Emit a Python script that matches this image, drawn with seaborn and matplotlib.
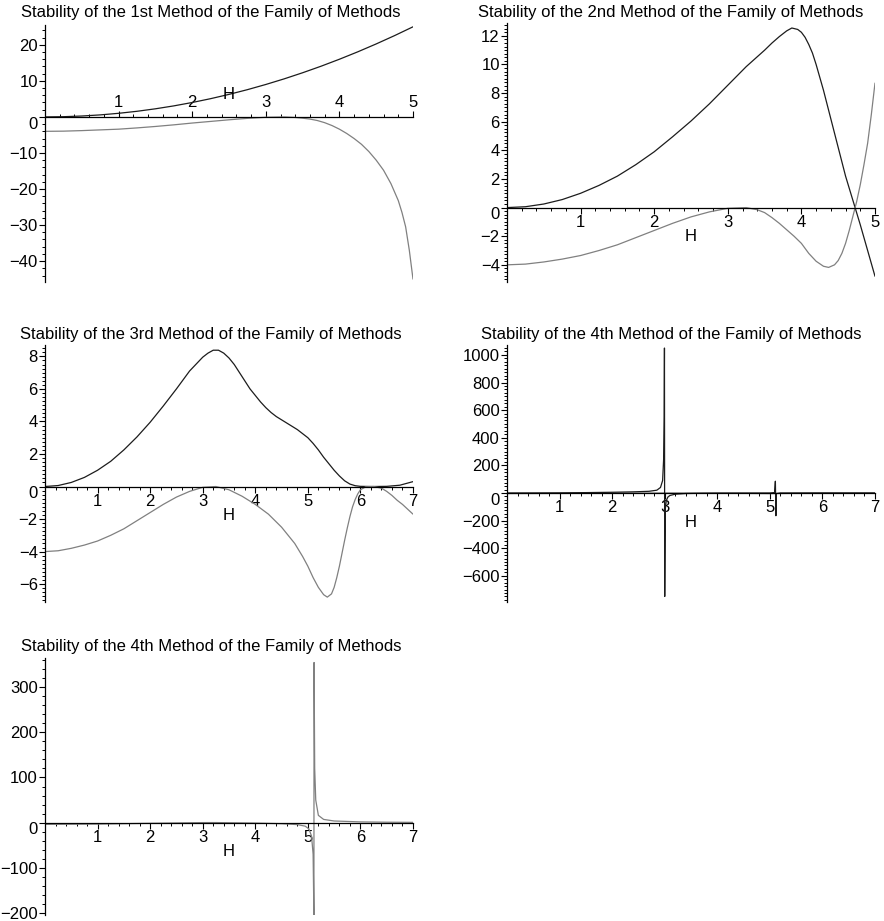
import matplotlib
matplotlib.use("Agg")
import matplotlib.pyplot as plt
import matplotlib.ticker as mticker
import seaborn as sns

# panel titles (the last two panels carry the same title in the source)
titles = [
    "Stability of the 1st Method of the Family of Methods",
    "Stability of the 2nd Method of the Family of Methods",
    "Stability of the 3rd Method of the Family of Methods",
    "Stability of the 4th Method of the Family of Methods",
    "Stability of the 4th Method of the Family of Methods",
]

# ---- values ----
# 1st method
m1_h_black = [0, 0.25, 0.5, 0.75, 1, 1.25, 1.5, 1.75, 2, 2.25, 2.5, 2.75, 3, 3.25, 3.5, 3.75, 4, 4.25, 4.5, 4.75, 5]
m1_black = [0, 0.06, 0.25, 0.56, 1, 1.56, 2.25, 3.06, 4, 5.06, 6.25, 7.56, 9, 10.56, 12.25, 14.06, 16, 18.06, 20.25, 22.56, 25]
m1_h_gray = [0, 0.25, 0.5, 0.75, 1, 1.25, 1.5, 1.75, 2, 2.25, 2.5, 2.75, 3, 3.25, 3.4, 3.5, 3.6, 3.7, 3.8, 3.9, 4.0,
             4.1, 4.2, 4.3, 4.4, 4.5, 4.6, 4.7, 4.8, 4.85, 4.9, 4.95, 5.0]
m1_gray = [-4, -3.95, -3.8, -3.6, -3.4, -3.05, -2.65, -2.2, -1.7, -1.25, -0.8, -0.4, -0.1, 0, -0.15, -0.35, -0.6, -1.0, -1.6, -2.4, -3.4,
           -4.6, -6.0, -7.6, -9.6, -12.0, -14.8, -18.5, -23.2, -26.5, -30.5, -37.0, -45.0]

# 2nd method
m2_h_black = [0, 0.25, 0.5, 0.75, 1, 1.25, 1.5, 1.75, 2, 2.25, 2.5, 2.75, 3, 3.25, 3.5, 3.6, 3.7, 3.8, 3.87, 3.95, 4.0,
              4.05, 4.1, 4.15, 4.2, 4.3, 4.4, 4.5, 4.6, 4.7, 4.8, 4.9, 5]
m2_black = [0, 0.06, 0.25, 0.56, 1, 1.55, 2.2, 3.0, 3.9, 4.95, 6.05, 7.25, 8.55, 9.85, 11.0, 11.5, 11.95, 12.35, 12.55, 12.45, 12.25,
            11.9, 11.4, 10.8, 10.0, 8.2, 6.2, 4.2, 2.2, 0.5, -1.2, -3.0, -4.8]
m2_h_gray = [0, 0.25, 0.5, 0.75, 1, 1.25, 1.5, 1.75, 2, 2.25, 2.5, 2.75, 3, 3.25, 3.4, 3.5, 3.6, 3.7, 3.8, 3.9, 4.0,
             4.1, 4.2, 4.3, 4.37, 4.45, 4.5, 4.55, 4.6, 4.65, 4.7, 4.75, 4.8, 4.85, 4.9, 4.95, 5.0]
m2_gray = [-4, -3.95, -3.8, -3.6, -3.35, -3.0, -2.6, -2.1, -1.6, -1.1, -0.65, -0.3, -0.05, 0, -0.15, -0.35, -0.7, -1.1, -1.55, -2.0, -2.5,
           -3.2, -3.75, -4.1, -4.18, -4.0, -3.7, -3.2, -2.5, -1.6, -0.6, 0.4, 1.6, 3.0, 4.5, 6.5, 8.7]

# 3rd method
m3_h_black = [0, 0.25, 0.5, 0.75, 1, 1.25, 1.5, 1.75, 2, 2.25, 2.5, 2.75, 3, 3.1, 3.2, 3.3, 3.4, 3.5, 3.6, 3.7, 3.8, 3.9,
              4.0, 4.1, 4.2, 4.3, 4.4, 4.5, 4.6, 4.7, 4.8, 4.9, 5.0, 5.1, 5.2, 5.3, 5.4, 5.5, 5.6, 5.7, 5.8, 5.9,
              6.0, 6.25, 6.5, 6.75, 7]
m3_black = [0, 0.06, 0.25, 0.56, 1, 1.55, 2.25, 3.05, 3.95, 4.95, 6.0, 7.1, 7.95, 8.2, 8.38, 8.38, 8.2, 7.9, 7.5, 7.0, 6.5, 6.0,
            5.6, 5.2, 4.85, 4.55, 4.3, 4.1, 3.9, 3.7, 3.5, 3.25, 3.0, 2.65, 2.25, 1.8, 1.4, 1.0, 0.65, 0.35, 0.15, 0.05,
            0.01, 0, 0.01, 0.08, 0.3]
m3_h_gray = [0, 0.25, 0.5, 0.75, 1, 1.25, 1.5, 1.75, 2, 2.25, 2.5, 2.75, 3, 3.25, 3.5, 3.75, 4, 4.25, 4.5, 4.75, 4.9,
             5.0, 5.1, 5.2, 5.3, 5.37, 5.45, 5.5, 5.55, 5.6, 5.65, 5.7, 5.75, 5.8, 5.85, 5.9, 5.95, 6.0, 6.1, 6.25,
             6.4, 6.5, 6.6, 6.7, 6.8, 6.9, 7.0]
m3_gray = [-4, -3.95, -3.8, -3.6, -3.35, -3.0, -2.6, -2.1, -1.6, -1.1, -0.65, -0.3, -0.05, 0, -0.2, -0.6, -1.1, -1.7, -2.5, -3.5, -4.3,
           -4.9, -5.6, -6.2, -6.65, -6.8, -6.6, -6.2, -5.6, -4.9, -4.1, -3.3, -2.55, -1.85, -1.25, -0.8, -0.45, -0.2, -0.02, 0,
           -0.1, -0.3, -0.55, -0.85, -1.1, -1.4, -1.7]

# 4th method (first view)
m4_h_black = [0, 0.5, 1, 1.5, 2, 2.4, 2.7, 2.85, 2.92, 2.96, 2.98, 2.99, 2.995, 3.0, 3.01, 3.03, 3.06, 3.1, 3.2, 3.4, 3.7, 4, 4.5,
              5, 5.09, 5.105, 5.115, 5.125, 5.2, 6, 7]
m4_black = [0, 0.3, 1, 2.5, 5, 8, 12, 20, 40, 90, 250, 550, 1050, -750, -120, -55, -30, -18, -9, -4, -2, -1, -0.5,
            0, 3, 85, -165, -4, 0, 0, 0.3]
m4_h_gray = [0, 1, 2, 3, 4, 5, 6, 7]
m4_gray = [-4, -3.4, -1.6, -0.1, -1.1, -4.6, -0.1, -1.7]

# 4th method (second view)
m5_h_gray = [0, 1, 2, 3, 3.25, 4, 4.5, 4.8, 4.95, 5.02, 5.07, 5.1, 5.115, 5.118, 5.13, 5.15, 5.2, 5.3, 5.5, 6, 6.5, 7]
m5_gray = [-4, -3.4, -1.6, -0.05, 0, -1.1, -2.5, -4.5, -8, -14, -30, -70, -205, 355, 120, 50, 16, 7, 3.5, 1.5, 0.8, 0.5]

BLACK = "#1c1c1c"
GRAY = "#808080"

sns.set_style("ticks", {"axes.edgecolor": "black", "text.color": "black",
                        "xtick.color": "black", "ytick.color": "black"})
plt.rcParams["font.family"] = ["Liberation Sans", "DejaVu Sans"]

W, H = 884, 921
fig = plt.figure(figsize=(W / 100, H / 100), dpi=100)


def px_axes(left, top, right, bottom):
    return fig.add_axes([left / W, 1 - bottom / H, (right - left) / W, (bottom - top) / H])


def maple_style(ax, xmax, ylim, ymajor, yminor, labels_above=False):
    ax.set_xlim(0, xmax)
    ax.set_ylim(*ylim)
    ax.spines["right"].set_visible(False)
    if labels_above:
        ax.spines["bottom"].set_visible(False)
        ax.spines["top"].set_position(("data", 0))
        ax.xaxis.tick_top()
    else:
        ax.spines["top"].set_visible(False)
        ax.spines["bottom"].set_position(("data", 0))
    for s in ax.spines.values():
        s.set_linewidth(0.9)
    ax.xaxis.set_major_locator(mticker.FixedLocator(range(1, xmax + 1)))
    ax.xaxis.set_minor_locator(mticker.MultipleLocator(0.2))
    ax.yaxis.set_major_locator(mticker.MultipleLocator(ymajor))
    ax.yaxis.set_minor_locator(mticker.MultipleLocator(yminor))
    ax.yaxis.set_major_formatter(mticker.FuncFormatter(
        lambda v, p: "" if abs(v) < 1e-9 else f"{v:g}".replace("-", "\u2212")))
    ax.tick_params(which="major", direction="out", length=4, width=0.8, pad=1.2, labelsize=12)
    ax.tick_params(which="minor", direction="out", length=2.2, width=0.7)
    ax.set_xlabel("")
    ax.set_ylabel("")
    # the zero label sits a little below the horizontal axis
    ax.annotate("0", xy=(0, 0), xycoords="data", xytext=(-5.2, -5.2), textcoords="offset points",
                ha="right", va="center", fontsize=12, annotation_clip=False)
    dy = 16 if labels_above else -21
    ax.annotate("H", xy=(xmax / 2, 0), xycoords="data", xytext=(0, dy), textcoords="offset points",
                ha="center", va="center", fontsize=12, annotation_clip=False)


def curve(ax, h, v, color):
    sns.lineplot(x=h, y=v, ax=ax, color=color, linewidth=0.9, sort=False, estimator=None)


# panel 1
ax1 = px_axes(45, 25, 413, 282)
curve(ax1, m1_h_black, m1_black, BLACK)
curve(ax1, m1_h_gray, m1_gray, GRAY)
maple_style(ax1, 5, (-45.8, 25.5), 10, 2, labels_above=True)

# panel 2
ax2 = px_axes(507, 23, 875, 282)
curve(ax2, m2_h_black, m2_black, BLACK)
curve(ax2, m2_h_gray, m2_gray, GRAY)
maple_style(ax2, 5, (-5.2, 12.9), 2, 0.25)

# panel 3
ax3 = px_axes(45, 345, 413, 602)
curve(ax3, m3_h_black, m3_black, BLACK)
curve(ax3, m3_h_gray, m3_gray, GRAY)
maple_style(ax3, 7, (-7.1, 8.7), 2, 0.25)

# panel 4
ax4 = px_axes(507, 345, 875, 602)
curve(ax4, m4_h_gray, m4_gray, GRAY)
curve(ax4, m4_h_black, m4_black, BLACK)
maple_style(ax4, 7, (-790, 1072), 200, 25)

# panel 5
ax5 = px_axes(45, 658, 413, 915)
curve(ax5, m5_h_gray, m5_gray, GRAY)
maple_style(ax5, 7, (-205, 365), 100, 20)

title_pos = [(211, 12), (671, 13), (211, 334), (671, 334), (211, 646)]
for t, (tx, ty) in zip(titles, title_pos):
    fig.text(tx / W, 1 - ty / H, t, ha="center", va="center", fontsize=12)

fig.savefig("out.png", dpi=100)
